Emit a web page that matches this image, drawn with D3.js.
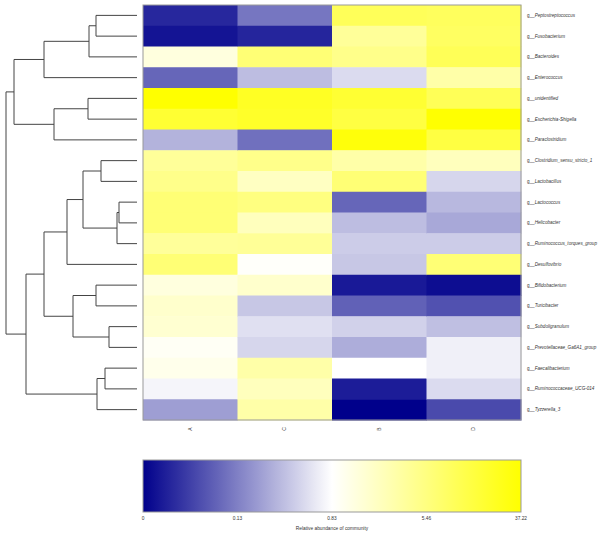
<!DOCTYPE html>
<html><head><meta charset="utf-8">
<script src="https://cdn.jsdelivr.net/npm/d3@7"></script>
<style>body{margin:0;background:#fff;} svg{display:block;}</style>
</head><body>
<svg id="chart" width="600" height="535"></svg>
<script>
// ---- data ----
const genera = ["Peptostreptococcus","Fusobacterium","Bacteroides","Enterococcus","unidentified","Escherichia-Shigella","Paraclostridium","Clostridium_sensu_stricto_1","Lactobacillus","Lactococcus","Helicobacter","Ruminococcus_torques_group","Desulfovibrio","Bifidobacterium","Turicibacter","Subdoligranulum","Prevotellaceae_Ga6A1_group","Faecalibacterium","Ruminococcaceae_UCG-014","Tyzzerella_3"];
const samples = ["A","C","B","D"];
const valA = [0.04,0.02,2.03,0.104,37.22,24.5,0.41,4.53,5.09,8.0,8.0,4.5,8.0,2.03,2.68,2.5,1.2,1.57,0.774,0.298];
const valC = [0.12,0.038,8.0,0.466,28.3,27.1,0.114,5.09,3.05,5.46,3.24,4.6,1.0,2.68,0.52,0.66,0.606,3.98,3.24,3.98];
const valB = [15.0,4.53,5.09,0.634,24.5,20.7,34.7,3.98,8.0,0.104,0.466,0.55,0.52,0.026,0.099,0.578,0.382,0.83,0.029,0.0];
const valD = [14.0,13.1,15.6,3.98,15.6,37.0,20.7,3.24,0.606,0.438,0.354,0.55,8.0,0.013,0.083,0.48,0.746,0.746,0.634,0.075];
const legendTicks = [0,0.13,0.83,5.46,37.22];
// dendrogram merges (hclust style): negative = leaf index (1-based), positive = earlier merge (1-based)
const merges = [
  [-1,-2,41],     //1
  [1,-3,48],      //2
  [2,-4,93],      //3
  [-5,-6,49],     //4
  [4,-7,83],      //5
  [3,5,123],      //6
  [-8,-9,36],     //7
  [-10,-11,18],   //8
  [8,-12,20],     //9
  [7,9,54],       //10
  [10,-13,70],    //11
  [-14,-15,41],   //12
  [-16,-17,28],   //13
  [12,13,64],     //14
  [11,14,93],     //15
  [-18,-19,32],   //16
  [16,-20,40],    //17
  [15,17,111],    //18
  [6,18,131]      //19
];

// ---- layout ----
const svg = d3.select("#chart");
const hm = {x0:143, x1:521, y0:5, y1:420};
const x = d3.scaleBand().domain(samples).range([hm.x0, hm.x1]);
const y = d3.scaleBand().domain(genera).range([hm.y0, hm.y1]);
const pos = d3.scaleLinear().domain(legendTicks).range([0,0.25,0.5,0.75,1]).clamp(true);
const navy = "#00008B", white = "#FFFFFF", yellow = "#FFFF00";
const colT = t => t < 0.5 ? d3.interpolateRgb(navy, white)(t/0.5) : d3.interpolateRgb(white, yellow)((t-0.5)/0.5);
const color = v => colT(pos(v));

const series = {A:valA, C:valC, B:valB, D:valD};
const cells = [];
samples.forEach(s => genera.forEach((g,i) => cells.push({s, g, v: series[s][i]})));

svg.append("g").selectAll("rect").data(cells).join("rect")
  .attr("x", d => x(d.s)).attr("y", d => y(d.g))
  .attr("width", x.bandwidth()+0.5).attr("height", y.bandwidth()+0.5)
  .attr("fill", d => color(d.v));
svg.append("rect").attr("x", hm.x0).attr("y", hm.y0).attr("width", hm.x1-hm.x0).attr("height", hm.y1-hm.y0)
  .attr("fill","none").attr("stroke","#999").attr("stroke-width",1);

// row labels
const rl = svg.append("g").selectAll("text").data(genera).join("text")
  .attr("x", 527).attr("y", d => y(d) + y.bandwidth()/2 + 1.6)
  .attr("font-family","Liberation Sans, Arial, sans-serif").attr("font-size", 4.6).attr("fill","#333");
rl.append("tspan").text("g__");
rl.append("tspan").attr("font-style","italic").text(d => d);

// column labels (rotated)
svg.append("g").selectAll("text").data(samples).join("text")
  .attr("transform", d => `translate(${x(d)+x.bandwidth()/2+1.6},${hm.y1+9}) rotate(-90)`)
  .attr("text-anchor","middle")
  .attr("font-family","Liberation Sans, Arial, sans-serif").attr("font-size", 5).attr("fill","#333")
  .text(d => d);

// dendrogram
const hx = d3.scaleLinear().domain([0, 131]).range([137, 6]);
const nodes = [];
const leafY = i => y(genera[i]) + y.bandwidth()/2;
function nodeInfo(id){
  if (id < 0) return {x: hx(0), y: leafY(-id-1)};
  return nodes[id-1];
}
const dg = svg.append("g").attr("fill","none").attr("stroke","#444").attr("stroke-width",1);
merges.forEach(m => {
  const a = nodeInfo(m[0]), b = nodeInfo(m[1]);
  const nx = hx(m[2]);
  dg.append("path").attr("d", `M${a.x},${a.y}H${nx}V${b.y}H${b.x}`);
  nodes.push({x: nx, y: (a.y+b.y)/2});
});

// legend
const lg = {x0:143, x1:521, y0:460, y1:512};
const defs = svg.append("defs");
const grad = defs.append("linearGradient").attr("id","lgrad");
d3.range(0, 1.0001, 0.05).forEach(t => grad.append("stop").attr("offset", t).attr("stop-color", colT(t)));
svg.append("rect").attr("x", lg.x0).attr("y", lg.y0).attr("width", lg.x1-lg.x0).attr("height", lg.y1-lg.y0)
  .attr("fill","url(#lgrad)").attr("stroke","#999").attr("stroke-width",1);
const lx = d3.scaleLinear().domain([0,1]).range([lg.x0, lg.x1]);
svg.append("g").selectAll("text").data(legendTicks).join("text")
  .attr("x", d => lx(pos(d))).attr("y", 519.5).attr("text-anchor","middle")
  .attr("font-family","Liberation Sans, Arial, sans-serif").attr("font-size", 4.8).attr("fill","#333")
  .text(d => d);
svg.append("text").attr("x", 332).attr("y", 529.5).attr("text-anchor","middle")
  .attr("font-family","Liberation Sans, Arial, sans-serif").attr("font-size", 4.8).attr("fill","#333")
  .text("Relative abundance of community");
</script>
</body></html>
